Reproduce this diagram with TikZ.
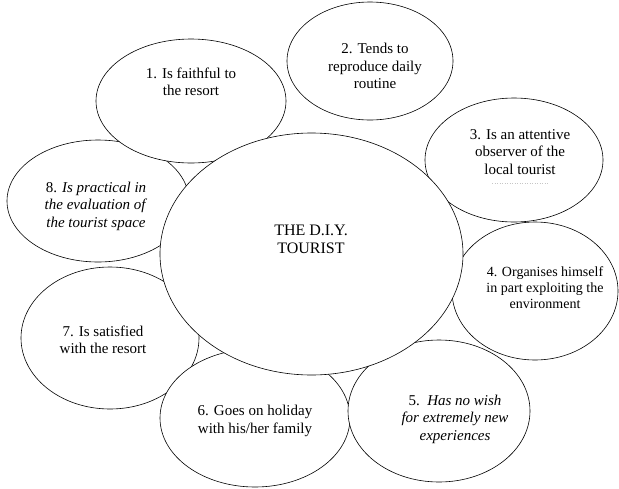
\documentclass[tikz,border=0pt]{standalone}
\usepackage{fontspec}
\setmainfont{Liberation Serif}
\begin{document}
\begin{tikzpicture}[x=1pt,y=-1pt,
  bubble/.style={draw=black,fill=white,line width=0.6pt},
  lbl/.style={align=center,inner sep=0pt,font=\fontsize{15}{17.5}\selectfont},
  lblsmall/.style={align=center,inner sep=0pt,font=\fontsize{14}{16}\selectfont},
  lblbig/.style={align=center,inner sep=0pt,font=\fontsize{16}{18}\selectfont}]
\useasboundingbox (0,0) rectangle (619,488);
% outer ellipses
\draw[bubble] (98,201) ellipse [x radius=91, y radius=61];
\draw[bubble] (191,101) ellipse [x radius=95, y radius=62];
\draw[bubble] (370,61) ellipse [x radius=83, y radius=59];
\draw[bubble] (514,160) ellipse [x radius=89, y radius=62];
\draw[bubble] (535,291) ellipse [x radius=83, y radius=69];
\draw[bubble] (110,338) ellipse [x radius=89, y radius=71];
\draw[bubble] (255,418) ellipse [x radius=95, y radius=69];
\draw[bubble] (439,411) ellipse [x radius=91, y radius=71];
% central ellipse
\draw[bubble] (311.5,254) ellipse [x radius=151.5, y radius=121];
% labels
\node[lblbig] (c) at (311,239) {THE D.I.Y.\\TOURIST};
\node[lbl] (n1) at (191,82) {1. Is faithful to\\the resort};
\node[lbl] (n2) at (375,66) {2. Tends to\\reproduce daily\\routine};
\node[lbl] (n3) at (520,152) {3. Is an attentive\\observer of the\\local tourist};
\draw[gray!45,line width=0.5pt,dash pattern=on 1pt off 1.5pt] (492,183) -- (548,183);
\node[lblsmall] (n4) at (545,288) {4. Organises himself\\in part exploiting the\\environment};
\node[lbl] (n5) at (455,419) {5.\ \ \textit{Has no wish}\\\textit{for extremely new}\\\textit{experiences}};
\node[lbl] (n6) at (255,421) {6. Goes on holiday\\with his/her family};
\node[lbl] (n7) at (103,340) {7. Is satisfied\\with the resort};
\node[lbl] (n8) at (96,206) {8. \textit{Is practical in}\\\textit{the evaluation of}\\\textit{the tourist space}};
\end{tikzpicture}
\end{document}
